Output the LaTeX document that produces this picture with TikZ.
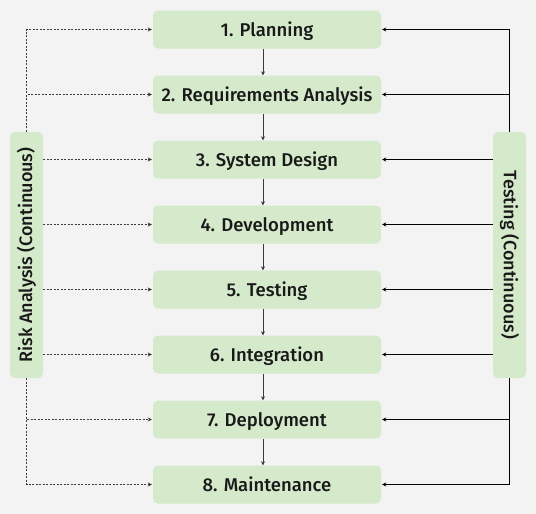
\documentclass[tikz,border=0pt]{standalone}
\usepackage{fontspec}
\setmainfont{Fira Sans}[UprightFont=* Medium]
\usetikzlibrary{positioning, arrows.meta}
\definecolor{bggray}{HTML}{F3F3F3}
\definecolor{phasegreen}{HTML}{D5EACA}
\definecolor{linegray}{HTML}{3A3A3A}
\tikzset{
    phase/.style = {rectangle, rounded corners=5pt, fill=phasegreen, minimum width=228pt, minimum height=38pt, inner sep=0pt, text height=13pt, text depth=0pt, font=\fontsize{18.5}{22}\selectfont, text=black!90},
    sidebox/.style = {rectangle, rounded corners=5pt, fill=phasegreen, minimum width=33pt, minimum height=246pt, inner sep=0pt, font=\fontsize{18}{22}\selectfont, text=black!90},
    flow/.style = {-{Stealth[length=4pt, width=4pt]}, draw=linegray, line width=0.8pt},
    riskline/.style = {-{Stealth[length=4pt, width=4pt]}, draw=linegray, line width=0.7pt, dash pattern=on 2pt off 1.5pt, shorten >=1pt},
    testline/.style = {-{Stealth[length=4pt, width=4pt]}, draw=black, line width=0.7pt, shorten >=1pt}
}

\begin{document}
\begin{tikzpicture}[x=1pt, y=-1pt, node distance=65pt]
\fill[bggray] (0,0) rectangle (536,514);
\node[phase] (plan) at (267,29.5) {1. Planning};
\node[phase, below of=plan] (req) {2. Requirements Analysis};
\node[phase, below of=req] (design) {3. System Design};
\node[phase, below of=design] (dev) {4. Development};
\node[phase, below of=dev] (test) {5. Testing};
\node[phase, below of=test] (integ) {6. Integration};
\node[phase, below of=integ] (deploy) {7. Deployment};
\node[phase, below of=deploy] (maint) {8. Maintenance};
\node[sidebox] (risk) at (26.5,255) {\rotatebox{90}{Risk Analysis (Continuous)}};
\node[sidebox] (testing) at (509.5,255) {\rotatebox{-90}{Testing (Continuous)}};
% main flow
\foreach \a/\b in {plan/req, req/design, design/dev, dev/test, test/integ, integ/deploy, deploy/maint}
    \draw[flow] ([xshift=-4pt]\a.south) -- ([xshift=-4pt]\b.north);
% risk analysis, left
\draw[riskline] (risk.north) |- (plan.west);
\draw[riskline] (risk.north) |- (req.west);
\foreach \p in {design, dev, test, integ}
    \draw[riskline] (risk.east |- \p.west) -- (\p.west);
\draw[riskline] (risk.south) |- (deploy.west);
\draw[riskline] (risk.south) |- (maint.west);
% testing, right
\draw[testline] (testing.north) |- (plan.east);
\draw[testline] (testing.north) |- (req.east);
\foreach \p in {design, dev, test, integ}
    \draw[testline] (testing.west |- \p.east) -- (\p.east);
\draw[testline] (testing.south) |- (deploy.east);
\draw[testline] (testing.south) |- (maint.east);
\end{tikzpicture}
\end{document}
